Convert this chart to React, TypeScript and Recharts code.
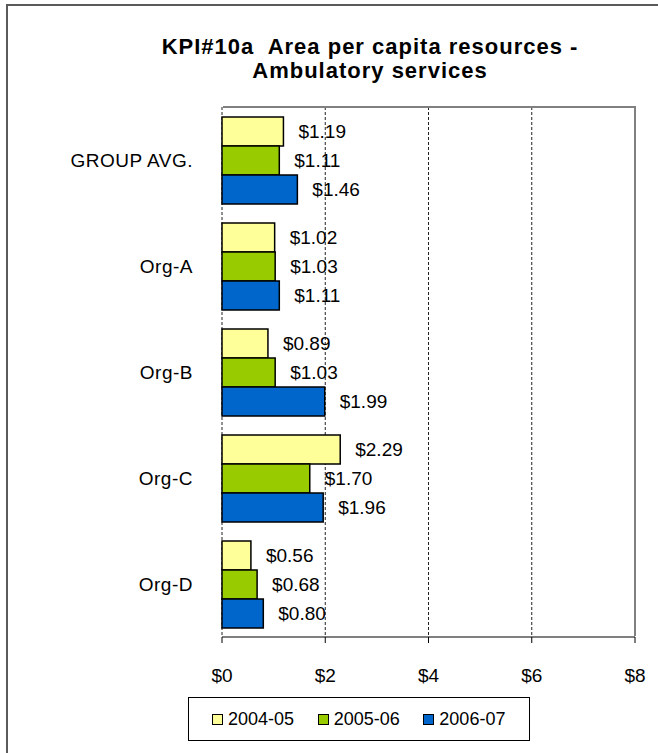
import React from "react";
import { BarChart, Bar, XAxis, YAxis, CartesianGrid, LabelList } from "recharts";

const categories = ["GROUP AVG.", "Org-A", "Org-B", "Org-C", "Org-D"];
const values0405 = [1.19, 1.02, 0.89, 2.29, 0.56];
const values0506 = [1.11, 1.03, 1.03, 1.7, 0.68];
const values0607 = [1.46, 1.11, 1.99, 1.96, 0.8];
const seriesNames = ["2004-05", "2005-06", "2006-07"];
const seriesColors = ["#FFFF99", "#99CC00", "#0066CC"];
const xTicks = [0, 2, 4, 6, 8];
const frameTicks = [0, 1, 2, 3, 4, 5];

const data = categories.map((name, i) => ({
  name,
  s0: values0405[i],
  s1: values0506[i],
  s2: values0607[i],
}));

const W = 658;
const H = 753;
const M = { top: 107, right: 23, left: 0, bottom: 0 };
const Y_AXIS_W = 222;
const X_AXIS_H = 116;

const font = "'Liberation Sans', Arial, sans-serif";
const money = (v: any) => `$${Number(v).toFixed(2)}`;

export default function App() {
  return (
    <div
      style={{
        position: "fixed",
        left: 0,
        top: 0,
        width: W,
        height: H,
        overflow: "hidden",
        background: "#fff",
        fontFamily: font,
      }}
    >
      {/* outer chart border, runs off the right and bottom */}
      <div
        style={{
          position: "absolute",
          left: 6,
          top: 4,
          width: 800,
          height: 900,
          border: "2px solid #5a5a5a",
        }}
      />
      <div
        style={{
          position: "absolute",
          left: 70,
          top: 35,
          width: 600,
          textAlign: "center",
          fontWeight: "bold",
          fontSize: 22,
          letterSpacing: 1,
          lineHeight: "24px",
          color: "#000",
        }}
      >
        KPI#10a&nbsp; Area per capita resources -<br />
        Ambulatory services
      </div>

      <div style={{ position: "absolute", left: 0, top: 0 }}>
        <BarChart
          width={W}
          height={H}
          data={data}
          layout="vertical"
          margin={M}
          barGap={0}
          barSize={29}
        >
          <CartesianGrid horizontal={false} stroke="#222" strokeDasharray="3 2" yAxisId="cat" />
          <XAxis
            type="number"
            domain={[0, 8]}
            ticks={xTicks}
            tickFormatter={(v) => `$${v}`}
            height={X_AXIS_H}
            tickSize={6}
            tickMargin={26}
            stroke="#000"
            tick={{ fill: "#000", fontSize: 19 }}
          />
          <YAxis
            yAxisId="frame"
            type="number"
            domain={[0, 5]}
            ticks={frameTicks}
            allowDataOverflow
            width={0}
            tick={false}
            tickSize={6}
            stroke="#000"
          />
          <YAxis
            yAxisId="cat"
            type="category"
            dataKey="name"
            width={Y_AXIS_W}
            axisLine={false}
            tickLine={false}
            tickSize={6}
            tickMargin={23}
            tick={{ fill: "#000", fontSize: 19, letterSpacing: 0.5 }}
          />
          {["s0", "s1", "s2"].map((key, i) => (
            <Bar
              key={key}
              dataKey={key}
              name={seriesNames[i]}
              yAxisId="cat"
              fill={seriesColors[i]}
              stroke="#000"
              strokeWidth={1.5}
              isAnimationActive={false}
            >
              <LabelList
                dataKey={key}
                position="right"
                offset={15}
                formatter={money}
                fill="#000"
                fontSize={19}
              />
            </Bar>
          ))}
        </BarChart>
      </div>

      {/* plot area frame: grey top and right edges */}
      <div
        style={{
          position: "absolute",
          left: M.left + Y_AXIS_W,
          top: M.top - 1,
          width: W - M.right - M.left - Y_AXIS_W,
          height: H - M.top - X_AXIS_H - M.bottom,
          borderTop: "2px solid #808080",
          borderRight: "2px solid #808080",
          boxSizing: "border-box",
          marginLeft: 1,
          pointerEvents: "none",
        }}
      />

      {/* legend */}
      <div
        style={{
          position: "absolute",
          left: 188,
          top: 697,
          width: 342,
          height: 44,
          boxSizing: "border-box",
          border: "1px solid #000",
          display: "flex",
          alignItems: "center",
          paddingLeft: 23,
        }}
      >
        {seriesNames.map((n, i) => (
          <div key={n} style={{ width: 107, display: "flex", alignItems: "center" }}>
            <span
              style={{
                display: "inline-block",
                width: 9,
                height: 9,
                border: "1.5px solid #000",
                background: seriesColors[i],
                marginRight: 5,
              }}
            />
            <span style={{ fontSize: 18, color: "#000" }}>{n}</span>
          </div>
        ))}
      </div>
    </div>
  );
}
